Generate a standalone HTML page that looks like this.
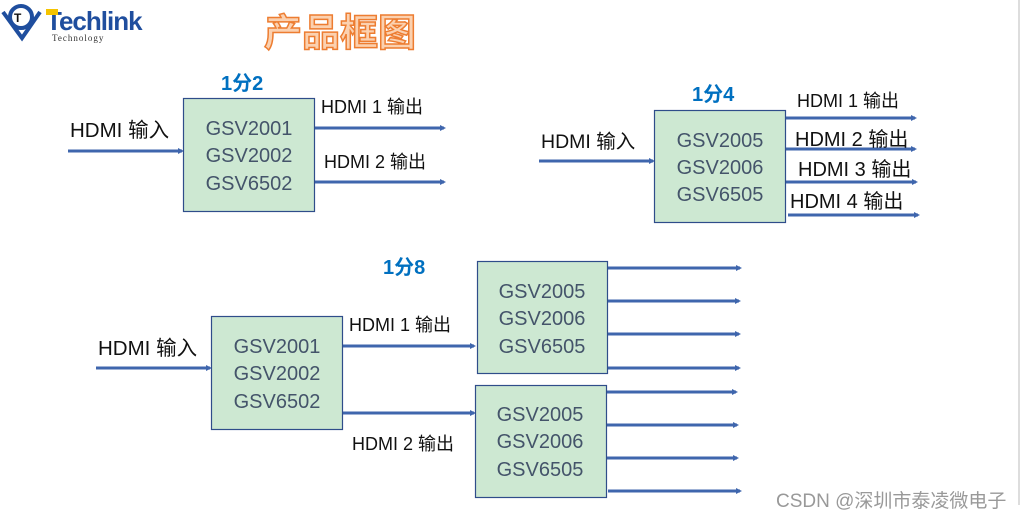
<!DOCTYPE html>
<html><head><meta charset="utf-8"><style>
html,body{margin:0;padding:0;background:#fff;width:1022px;height:520px;overflow:hidden}
svg{display:block}
.g{font-family:"Liberation Sans","Noto Sans CJK SC",sans-serif;fill:#44546a;font-size:20px;text-anchor:middle}
.l{font-family:"Liberation Sans","Noto Sans CJK SC",sans-serif;fill:#111;font-size:18px}
.h{font-family:"Liberation Sans","Noto Sans CJK SC",sans-serif;fill:#0070c0;font-size:20px;font-weight:bold}
</style></head><body>
<svg width="1022" height="520" viewBox="0 0 1022 520">
<defs><marker id="a" markerWidth="6" markerHeight="6" refX="4" refY="3" orient="auto" markerUnits="userSpaceOnUse"><path d="M0,0 L6,3 L0,6z" fill="#3f66ad"/></marker></defs>
<line x1="1019" y1="0" x2="1019" y2="505" stroke="#bbb" stroke-width="1"/>
<path d="M3,12 L22,38 L40,12" fill="none" stroke="#1f4e9e" stroke-width="4"/>
<circle cx="21" cy="17" r="11" fill="none" stroke="#1f4e9e" stroke-width="4"/>
<text x="14" y="22" font-family="Liberation Sans" font-size="12" font-weight="bold" fill="#111">T</text>
<text x="46" y="30" font-family="Liberation Sans" font-size="26" font-weight="bold" fill="#1f4e9e" letter-spacing="-1">Techlink</text>
<rect x="46" y="9" width="12" height="6" fill="#f5c400"/>
<text x="52" y="41" font-family="Liberation Serif" font-size="9" fill="#333" letter-spacing="1">Technology</text>
<text x="264" y="46" font-size="38" font-weight="bold" fill="#fbd1b0" stroke="#ed7d31" stroke-width="1.5" style="font-family:'Noto Sans CJK SC',sans-serif">产品框图</text>
<g stroke="#3f66ad" stroke-width="3" marker-end="url(#a)">
<line x1="68" y1="151" x2="182" y2="151"/>
<line x1="315" y1="128" x2="444" y2="128"/>
<line x1="315" y1="182" x2="444" y2="182"/>
<line x1="539" y1="161" x2="653" y2="161"/>
<line x1="786" y1="118" x2="915" y2="118"/>
<line x1="786" y1="149" x2="915" y2="149"/>
<line x1="786" y1="182" x2="916" y2="182"/>
<line x1="788" y1="215" x2="918" y2="215"/>
<line x1="96" y1="368" x2="210" y2="368"/>
<line x1="343" y1="346" x2="474" y2="346"/>
<line x1="343" y1="413" x2="474" y2="413"/>
<line x1="608" y1="268" x2="740" y2="268"/>
<line x1="608" y1="301" x2="739" y2="301"/>
<line x1="608" y1="334" x2="739" y2="334"/>
<line x1="608" y1="368" x2="739" y2="368"/>
<line x1="606" y1="392" x2="736" y2="392"/>
<line x1="606" y1="425" x2="737" y2="425"/>
<line x1="606" y1="458" x2="737" y2="458"/>
<line x1="608" y1="491" x2="740" y2="491"/>
</g>
<g fill="#cde8d2" stroke="#2f4d8a" stroke-width="1.2">
<rect x="183.5" y="98.5" width="131" height="113"/>
<rect x="654.5" y="110.5" width="131" height="112"/>
<rect x="211.5" y="316.5" width="131" height="113"/>
<rect x="477.5" y="261.5" width="130" height="112"/>
<rect x="475.5" y="385.5" width="131" height="112"/>
</g>
<text x="249" y="135" class="g">GSV2001</text><text x="249" y="162" class="g">GSV2002</text><text x="249" y="190" class="g">GSV6502</text>
<text x="720" y="147" class="g">GSV2005</text><text x="720" y="174" class="g">GSV2006</text><text x="720" y="201" class="g">GSV6505</text>
<text x="277" y="353" class="g">GSV2001</text><text x="277" y="380" class="g">GSV2002</text><text x="277" y="408" class="g">GSV6502</text>
<text x="542" y="298" class="g">GSV2005</text><text x="542" y="325" class="g">GSV2006</text><text x="542" y="353" class="g">GSV6505</text>
<text x="540" y="421" class="g">GSV2005</text><text x="540" y="448" class="g">GSV2006</text><text x="540" y="476" class="g">GSV6505</text>
<text x="70" y="137" class="l" style="font-size:20.5px">HDMI 输入</text>
<text x="321" y="113" class="l">HDMI 1 输出</text>
<text x="324" y="168" class="l">HDMI 2 输出</text>
<text x="541" y="148" class="l" style="font-size:19.5px">HDMI 输入</text>
<text x="797" y="107" class="l">HDMI 1 输出</text>
<text x="795" y="146" class="l" style="font-size:20px">HDMI 2 输出</text>
<text x="798" y="176" class="l" style="font-size:20px">HDMI 3 输出</text>
<text x="790" y="208" class="l" style="font-size:20px">HDMI 4 输出</text>
<text x="98" y="355" class="l" style="font-size:20.5px">HDMI 输入</text>
<text x="349" y="331" class="l">HDMI 1 输出</text>
<text x="352" y="450" class="l">HDMI 2 输出</text>
<text x="221" y="90" class="h">1分2</text>
<text x="692" y="101" class="h">1分4</text>
<text x="383" y="274" class="h">1分8</text>
<text x="776" y="507" style="font-family:'Liberation Sans','Noto Sans CJK SC',sans-serif" font-size="19" fill="#999">CSDN @深圳市泰凌微电子</text>
</svg>
</body></html>
